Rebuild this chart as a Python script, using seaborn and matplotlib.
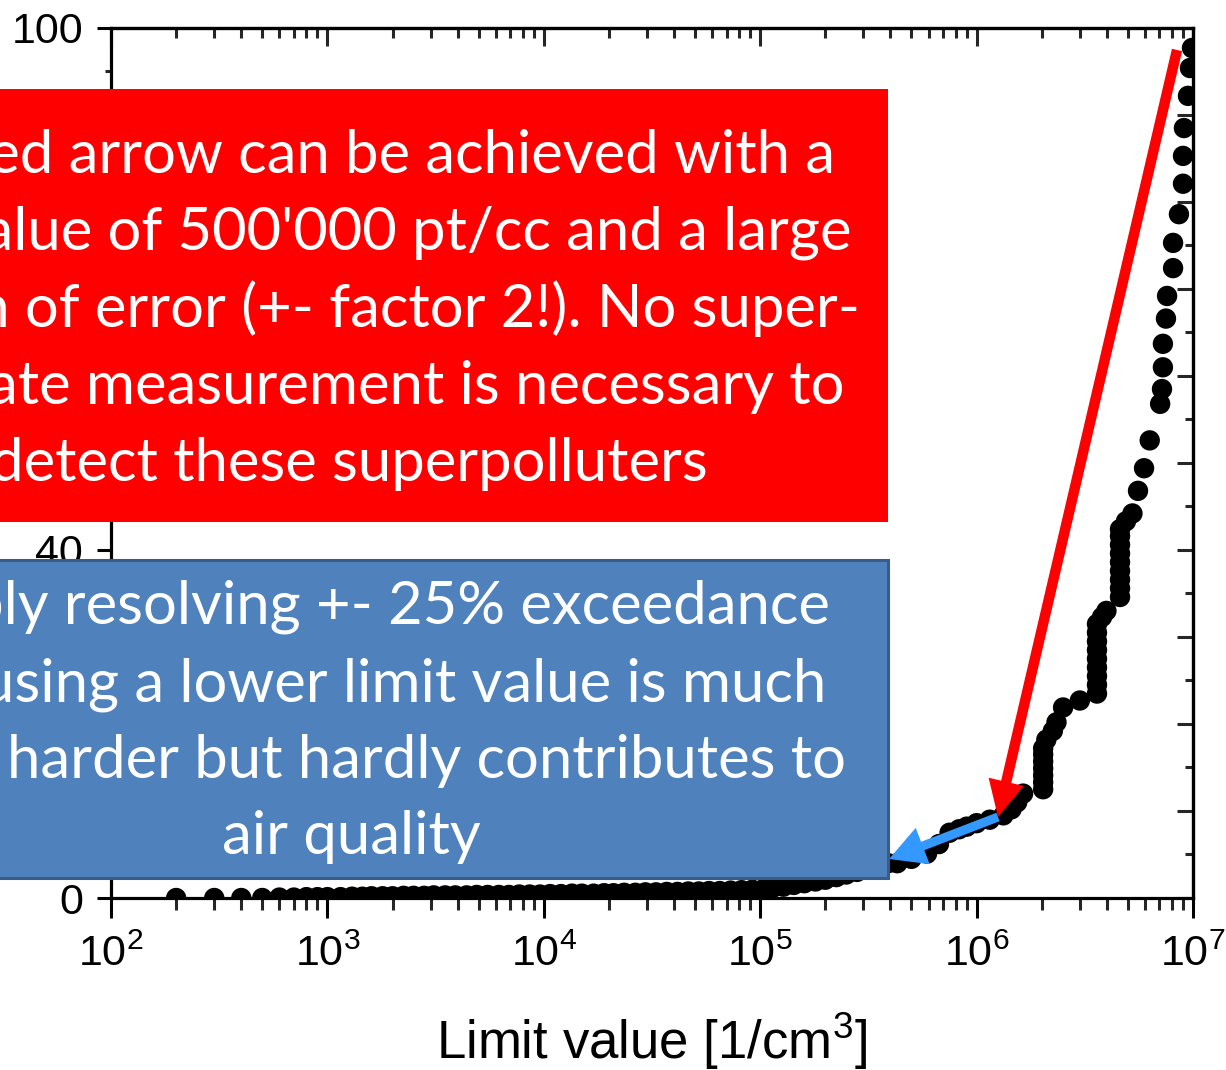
import matplotlib
matplotlib.use("Agg")
import matplotlib.pyplot as plt
import numpy as np
import pandas as pd
import seaborn as sns
from matplotlib.patches import Rectangle
from matplotlib.ticker import LogLocator, MultipleLocator, FuncFormatter, NullFormatter

# ---------------- data ----------------
limit_values = [
    200, 300, 400, 500, 600, 700, 800, 900, 1000, 1150, 1300, 1450, 1600, 1800,
    2000, 2250, 2500, 2800, 3100, 3500, 3900, 4400, 4900, 5500, 6200, 6900,
    7700, 8600, 9600, 10700, 12000, 13500, 15000, 17000, 19000, 21000, 23500,
    26500, 29500, 33000, 37000, 41500, 46500, 52000, 58000, 65000, 73000,
    82000, 92000, 103000, 115000, 128000, 143000, 160000, 180000, 200000,
    225000, 250000, 280000, 310000, 350000, 390000, 430000, 500000, 590000,
    670000, 750000, 830000, 900000, 1000000, 1150000, 1330000, 1450000,
    1540000, 1640000,
    2030000, 2030000, 2030000, 2030000, 2030000, 2030000, 2030000,
    2100000, 2250000, 2340000, 2510000, 3000000,
    3600000, 3600000, 3600000, 3600000, 3600000, 3600000, 3600000, 3600000, 3600000,
    3800000, 3980000,
    4600000, 4600000, 4600000, 4600000, 4600000, 4600000, 4600000, 4600000, 4600000,
    4900000, 5250000, 5570000, 5940000, 6310000, 7050000, 7190000, 7260000,
    7260000, 7500000, 7590000, 8090000, 8090000, 8610000, 8990000, 8990000,
    9080000, 9480000, 9680000, 9890000,
]
exceed_pct = [
    0.0, 0.0, 0.0, 0.0, 0.05, 0.05, 0.1, 0.1, 0.1, 0.1, 0.15, 0.15, 0.2, 0.2,
    0.2, 0.25, 0.25, 0.25, 0.3, 0.3, 0.3, 0.3, 0.35, 0.35, 0.35, 0.35,
    0.4, 0.4, 0.4, 0.45, 0.45, 0.5, 0.5, 0.5, 0.55, 0.55, 0.6,
    0.6, 0.65, 0.65, 0.7, 0.7, 0.75, 0.75, 0.8, 0.8, 0.85,
    0.9, 0.95, 1.0, 1.2, 1.3, 1.5, 1.7, 1.9, 2.1,
    2.4, 2.7, 3.0, 3.3, 3.7, 4.0, 4.0, 4.5, 5.1,
    6.2, 7.5, 7.9, 8.2, 8.6, 9.0, 9.5, 10.2,
    11.0, 12.0,
    12.5, 13.3, 14.1, 14.9, 15.7, 16.5, 17.2,
    18.2, 19.2, 20.2, 21.9, 22.7,
    23.5, 24.5, 25.5, 26.5, 27.5, 28.5, 29.5, 30.5, 31.5,
    32.3, 33.0,
    34.6, 35.6, 36.6, 37.6, 38.6, 39.6, 40.6, 41.6, 42.4,
    43.3, 44.2, 46.8, 49.4, 52.6, 56.8, 58.5, 61.0,
    63.7, 66.6, 69.2, 72.4, 75.3, 78.6, 82.1, 85.3,
    88.5, 92.2, 95.4, 97.7,
]
x_tick_values = [1e2, 1e3, 1e4, 1e5, 1e6, 1e7]
y_tick_step = 10
y_labelled = [0, 40, 100]   # the other labels are hidden behind the text boxes
x_label = "Limit value [1/cm$^3$]"

red_lines = [
    "The red arrow can be achieved with a",
    "limit value of 500'000 pt/cc and a large",
    "margin of error (+- factor 2!). No super-",
    "accurate measurement is necessary to",
    "detect these superpolluters",
]
blue_lines = [
    "Reliably resolving +- 25% exceedance",
    "using a lower limit value is much",
    "harder but hardly contributes to",
    "air quality",
]

df = pd.DataFrame({"limit": limit_values, "pct": exceed_pct})

# ---------------- figure ----------------
W, H = 1226, 1070
sns.set_theme(style="white")
plt.rcParams["font.family"] = ["Liberation Sans", "DejaVu Sans"]
plt.rcParams["mathtext.default"] = "regular"

fig = plt.figure(figsize=(W / 100, H / 100), dpi=100)
fig.patch.set_facecolor("white")
ax = fig.add_axes([111 / W, 1 - 898 / H, (1193 - 111) / W, (898 - 28) / H])

sns.scatterplot(data=df, x="limit", y="pct", ax=ax, s=215, color="black",
                edgecolor="none", linewidth=0, legend=False, zorder=3, clip_on=True)

ax.set_xscale("log")
ax.set_xlim(1e2, 1e7)
ax.set_ylim(0, 100)
ax.set_ylabel("")
ax.set_xlabel(x_label, fontsize=38, labelpad=26, color="black")

for s in ax.spines.values():
    s.set_linewidth(2.3)
    s.set_color("black")

ax.xaxis.set_major_locator(LogLocator(base=10, numticks=10))
ax.xaxis.set_minor_locator(LogLocator(base=10, subs=np.arange(2, 10), numticks=20))
ax.xaxis.set_minor_formatter(NullFormatter())
ax.xaxis.set_major_formatter(FuncFormatter(lambda v, p: r"$10^{%d}$" % int(round(np.log10(v)))))
ax.yaxis.set_major_locator(MultipleLocator(y_tick_step))
ax.yaxis.set_minor_locator(MultipleLocator(y_tick_step / 2))
ax.yaxis.set_major_formatter(FuncFormatter(
    lambda v, p: f"{int(round(v))}" if int(round(v)) in y_labelled else ""))

ax.tick_params(axis="x", which="major", direction="out", length=14.4, width=2.2,
               labelsize=31, pad=12, colors="black", bottom=True, top=False)
ax.tick_params(axis="x", which="minor", direction="out", length=8.6, width=2.2,
               bottom=True, top=False)
ax.tick_params(axis="y", which="major", direction="out", length=10, width=2.2,
               labelsize=31, pad=10, colors="black", left=True, right=False)
ax.tick_params(axis="y", which="minor", direction="out", length=4.3, width=2.2,
               left=True, right=False)

# top & right: inward ticks, no labels
secx = ax.secondary_xaxis("top")
secx.xaxis.set_major_locator(LogLocator(base=10, numticks=10))
secx.xaxis.set_minor_locator(LogLocator(base=10, subs=np.arange(2, 10), numticks=20))
secx.xaxis.set_major_formatter(NullFormatter())
secx.xaxis.set_minor_formatter(NullFormatter())
secx.tick_params(which="major", direction="in", length=13, width=2.2)
secx.tick_params(which="minor", direction="in", length=7.2, width=2.2)
secx.spines["top"].set_linewidth(2.3)

secy = ax.secondary_yaxis("right")
secy.yaxis.set_major_locator(MultipleLocator(y_tick_step))
secy.yaxis.set_minor_locator(MultipleLocator(y_tick_step / 2))
secy.yaxis.set_major_formatter(NullFormatter())
secy.tick_params(which="major", direction="in", length=11.5, width=2.2)
secy.tick_params(which="minor", direction="in", length=5.8, width=2.2)
secy.spines["right"].set_linewidth(2.3)


def px_to_data(xp, yp):
    xv = 10 ** (2 + (xp - 111) / ((1193 - 111) / 5))
    yv = (898 - yp) / ((898 - 28) / 100)
    return xv, yv


# arrows (annotations)
ax.annotate("", xy=px_to_data(998, 817), xytext=px_to_data(1177, 50),
            arrowprops=dict(arrowstyle="simple,head_length=26,head_width=26,tail_width=7.5",
                            mutation_scale=1, color="#FF0000", shrinkA=0, shrinkB=0, lw=0),
            zorder=6, annotation_clip=False)
ax.annotate("", xy=px_to_data(889, 859), xytext=px_to_data(998, 817),
            arrowprops=dict(arrowstyle="simple,head_length=26,head_width=28,tail_width=6.5",
                            mutation_scale=1, color="#3399FF", shrinkA=0, shrinkB=0, lw=0),
            zorder=6, annotation_clip=False)


def fx(x):
    return x / W


def fy(y):
    return 1 - y / H


BOX_FONT = ["Lato", "DejaVu Sans"]
BOX_SIZE = 43

# red text box
fig.add_artist(Rectangle((fx(-20), fy(522)), fx(888 + 20), (522 - 89) / H,
                         transform=fig.transFigure, facecolor="#FF0000",
                         edgecolor="none", zorder=10))
red_right = [835, 852, 860, 845, 708]
red_base = [173, 250, 327, 404, 481]
for line, xr, yb in zip(red_lines, red_right, red_base):
    fig.text(fx(xr), fy(yb), line, ha="right", va="baseline", color="white",
             fontsize=BOX_SIZE, family=BOX_FONT, zorder=11)

# blue text box
fig.add_artist(Rectangle((fx(-20), fy(878)), fx(888 + 20), (878 - 560) / H,
                         transform=fig.transFigure, facecolor="#4F81BD",
                         edgecolor="#385D8A", linewidth=2.2, zorder=10))
blue_pos = [(830, 624, "right"), (826, 701, "right"), (846, 778, "right"), (351, 854, "center")]
for line, (xp, yb, ha) in zip(blue_lines, blue_pos):
    fig.text(fx(xp), fy(yb), line, ha=ha, va="baseline", color="white",
             fontsize=BOX_SIZE, family=BOX_FONT, zorder=11)

fig.savefig("out.png", dpi=100, facecolor="white")
